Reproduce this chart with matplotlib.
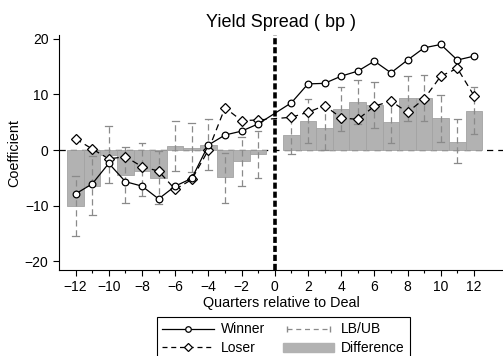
import matplotlib
matplotlib.use('Agg')
import matplotlib.pyplot as plt
from matplotlib.lines import Line2D
from matplotlib.patches import Patch
from matplotlib.legend_handler import HandlerLine2D

plt.rcParams['font.family'] = ['Liberation Sans', 'DejaVu Sans']

# quarters around the deal (quarter 0 itself is not estimated)
quarters = [-12, -11, -10, -9, -8, -7, -6, -5, -4, -3, -2, -1,
            1, 2, 3, 4, 5, 6, 7, 8, 9, 10, 11, 12]

winner = [-7.9, -6.1, -2.4, -5.7, -6.5, -8.8, -6.5, -5.1, 0.9, 2.7, 3.4, 4.7,
          8.5, 11.9, 12.0, 13.3, 14.2, 16.0, 13.9, 16.2, 18.4, 19.0, 16.2, 16.9]
loser = [2.0, 0.2, -1.6, -1.2, -3.0, -3.8, -7.1, -5.3, 0.0, 7.6, 5.3, 5.4,
         5.9, 6.8, 8.0, 5.8, 5.5, 7.9, 8.8, 6.8, 9.2, 13.3, 14.7, 9.8]
difference = [-10.1, -6.4, -0.9, -4.5, -3.7, -5.0, 0.7, 0.4, 0.9, -4.9, -2.0, -0.8,
              2.7, 5.2, 3.9, 7.4, 8.6, 8.1, 5.0, 9.3, 9.3, 5.7, 1.4, 7.0]
lower = [-15.5, -11.7, -6.0, -9.5, -8.3, -9.7, -3.7, -4.0, -3.6, -9.5, -6.4, -5.1,
         -0.8, 1.2, 0.0, 3.4, 4.7, 4.0, 1.2, 5.2, 5.2, 1.5, -2.4, 2.9]
upper = [-4.6, -1.0, 4.4, 0.5, 1.2, -0.2, 5.2, 4.9, 5.5, -0.5, 2.4, 3.4,
         6.2, 9.2, 7.8, 11.3, 12.6, 12.2, 8.8, 13.4, 13.5, 9.9, 5.5, 11.3]

bar_gray = '#b2b2b2'
err_gray = '#8a8a8a'

fig = plt.figure(figsize=(5.03, 3.56), dpi=100)
ax = fig.add_axes([0.1173, 0.2416, 0.8827, 0.66])

ax.axhline(0, color='black', lw=0.9, ls=(0, (5, 4)), zorder=1)
ax.bar(quarters, difference, width=1.0, color=bar_gray, edgecolor='#a3a3a3',
       linewidth=0.6, zorder=2)

# confidence band for the difference
for q, lo, hi in zip(quarters, lower, upper):
    ax.plot([q, q], [lo, hi], color=err_gray, lw=0.9, ls=(0, (5, 3)), zorder=3)
    ax.plot([q - 0.2, q + 0.2], [lo, lo], color=err_gray, lw=0.9, zorder=3)
    ax.plot([q - 0.2, q + 0.2], [hi, hi], color=err_gray, lw=0.9, zorder=3)

ax.plot(quarters, winner, color='black', lw=0.9, marker='o', ms=4.8,
        mfc='white', mec='black', mew=0.9, zorder=5)
ax.plot(quarters, loser, color='black', lw=0.9, ls=(0, (5, 3.5)), marker='D',
        ms=5.0, mfc='white', mec='black', mew=0.9, zorder=4)

ax.axvline(0, color='black', lw=2.6, ls=(0, (1.7, 0.8)), zorder=6)

ax.set_xlim(-13, 13.75)
ax.set_ylim(-21.6, 20.7)
ax.set_xticks(range(-12, 13, 2))
ax.set_xticks(range(-11, 13, 2), minor=True)
ax.set_yticks([-20, -10, 0, 10, 20])
ax.tick_params(axis='both', which='major', direction='out', length=4, width=0.8,
               labelsize=10)
ax.tick_params(axis='x', which='minor', direction='out', length=2.5, width=0.8)
ax.spines['top'].set_visible(False)
ax.spines['right'].set_visible(False)
ax.spines['left'].set_linewidth(0.8)
ax.spines['bottom'].set_linewidth(0.8)

ax.set_title('Yield Spread ( bp )', fontsize=13, pad=6)
ax.set_xlabel('Quarters relative to Deal', fontsize=10.4, labelpad=1)
ax.set_ylabel('Coefficient', fontsize=10.4, labelpad=2.5)

h_win = Line2D([], [], color='black', lw=0.9, marker='o', ms=4, mfc='white',
               mec='black', mew=0.9)
h_los = Line2D([], [], color='black', lw=0.9, ls=(0, (4, 3)), marker='D', ms=4.5,
               mfc='white', mec='black', mew=0.9)
h_band = Line2D([], [], color=err_gray, lw=0.9, ls=(0, (4, 3)), marker='|',
                ms=5, mec=err_gray)
h_diff = Patch(facecolor=bar_gray, edgecolor=bar_gray)

leg = fig.legend([h_win, h_los, h_band, h_diff],
                 ['Winner', 'Loser', 'LB/UB', 'Difference'],
                 loc='upper left', bbox_to_anchor=(0.3115, 0.110), ncol=2,
                 fontsize=10, frameon=True, fancybox=False, edgecolor='black',
                 framealpha=1, handlelength=3.7, handletextpad=0.5,
                 columnspacing=1.3, labelspacing=0.35, borderpad=0.4,
                 borderaxespad=0, numpoints=1,
                 handler_map={h_band: HandlerLine2D(numpoints=2)})
leg.get_frame().set_linewidth(0.8)

fig.savefig('out.png', dpi=100)
